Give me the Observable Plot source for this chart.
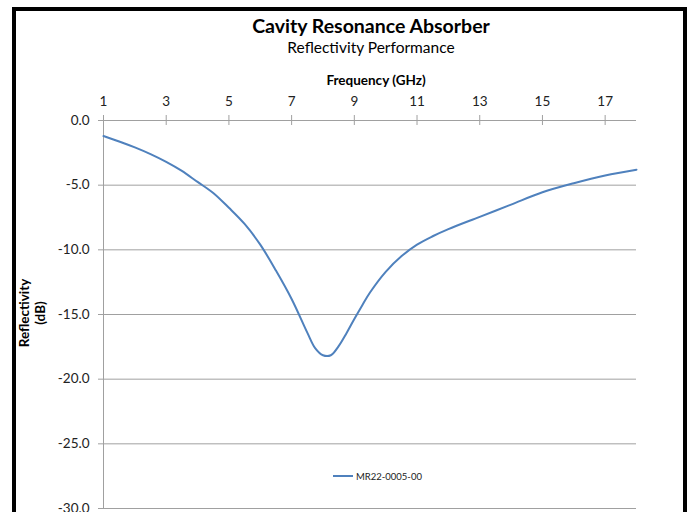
<!DOCTYPE html>
<html><head><meta charset="utf-8">
<script src="https://cdn.jsdelivr.net/npm/d3@7"></script>
<script src="https://cdn.jsdelivr.net/npm/@observablehq/plot@0.6"></script>
<style>
body{margin:0;background:#fff;font-family:Lato,sans-serif;overflow:hidden;width:689px;height:512px;}
#frame{position:absolute;left:12px;top:7px;width:667px;height:560px;border:4px solid #000;}
.t{position:absolute;white-space:nowrap;transform:translate(-50%,-50%);color:#000;}
#chart{position:absolute;left:0;top:0;}
#ylab{position:absolute;left:32px;top:313px;transform:translate(-50%,-50%) rotate(-90deg);text-align:center;font-size:13.5px;font-weight:bold;line-height:16px;white-space:nowrap;}
#legend{position:absolute;left:333px;top:468px;font-size:9.5px;color:#222;display:flex;align-items:center;height:16px;}
#legend span.sw{display:inline-block;width:20px;height:2px;background:#4F81BD;margin-right:3px;}
</style></head><body>
<div id="frame"></div>
<div id="chart"></div>
<div class="t" style="left:371px;top:25px;font-size:19.5px;font-weight:bold">Cavity Resonance Absorber</div>
<div class="t" style="left:371px;top:47px;font-size:15.5px;">Reflectivity Performance</div>
<div class="t" style="left:376px;top:80px;font-size:13.5px;font-weight:bold">Frequency (GHz)</div>
<div id="ylab">Reflectivity<br>(dB)</div>
<div id="legend"><span class="sw"></span><span id="legtext"></span></div>
<script>
const seriesName = "MR22-0005-00";
const freq = [1,1.5,2,2.5,3,3.5,4,4.5,5,5.5,6,6.5,7,7.5,7.75,8,8.25,8.5,8.75,9,9.25,9.5,10,10.5,11,11.5,12,13,14,15,16,17,18];
const refl = [-1.2,-1.62,-2.08,-2.6,-3.2,-3.9,-4.75,-5.6,-6.75,-8.0,-9.6,-11.6,-13.8,-16.4,-17.6,-18.15,-18.15,-17.45,-16.45,-15.35,-14.3,-13.3,-11.7,-10.5,-9.6,-8.95,-8.4,-7.45,-6.5,-5.55,-4.85,-4.25,-3.8];
const xTicks = [1,3,5,7,9,11,13,15,17];
const yTicks = [0,-5,-10,-15,-20,-25,-30];

const data = freq.map((f,i)=>({f, r: refl[i]}));
document.getElementById("legtext").textContent = seriesName;

const chart = Plot.plot({
  width: 689, height: 520,
  marginLeft: 103, marginRight: 53, marginTop: 120, marginBottom: 12,
  x: {domain: [1,18]},
  y: {domain: [-30,0]},
  style: {background: "transparent", fontFamily: "Lato, sans-serif", fontSize: "13px", color: "#222"},
  marks: [
    Plot.ruleY(yTicks, {stroke: "#a0a0a0", strokeWidth: 1}),
    Plot.ruleX([1], {stroke: "#a0a0a0", strokeWidth: 1}),
    Plot.ruleX(xTicks, {x: d=>d, y1: 0, y2: 0, insetTop: -5, insetBottom: -5, stroke: "#a0a0a0"}),
    Plot.axisX(xTicks, {anchor: "top", tickSize: 0, tickPadding: 15, label: null, fill: "#222", fontSize: 13.5}),
    Plot.axisY(yTicks, {anchor: "left", tickSize: 5, tickPadding: 9, tickFormat: d => d.toFixed(1), label: null, stroke: "#a0a0a0", fill: "#222", fontSize: 13.5}),
    Plot.line(data, {x: "f", y: "r", stroke: "#4F81BD", strokeWidth: 2, curve: "catmull-rom"})
  ]
});
document.getElementById("chart").appendChild(chart);
</script>
</body></html>
